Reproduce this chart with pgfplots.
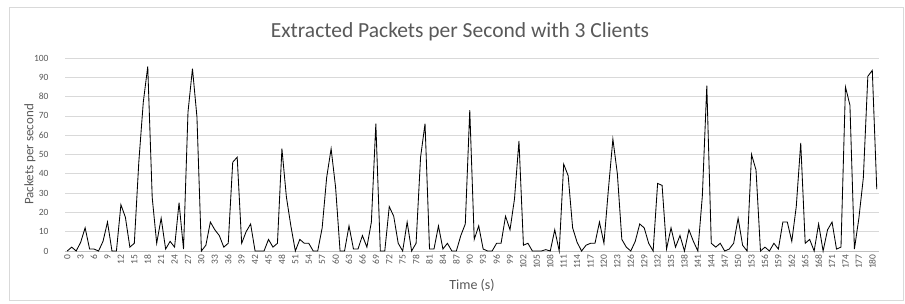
\documentclass[border=0pt]{standalone}
\usepackage{fontspec}
\setmainfont{Carlito}
\usepackage{pgfplots}
\pgfplotsset{compat=1.18}
\definecolor{txt}{HTML}{595959}
\definecolor{gridc}{HTML}{D9D9D9}
\definecolor{axc}{HTML}{BFBFBF}
\begin{document}
\begin{tikzpicture}
\useasboundingbox (0pt,0pt) rectangle (905pt,303pt);
\fill[white] (0pt,0pt) rectangle (905pt,303pt);
\draw[gridc, line width=0.75pt] (9pt,3pt) rectangle (903pt,296pt);
\node[text=txt, font=\fontsize{21.5}{24}\selectfont] at (460pt,271pt) {Extracted Packets per Second with 3 Clients};
\begin{axis}[
  at={(65pt,52pt)}, anchor=south west,
  scale only axis, width=814pt, height=193pt,
  xmin=-0.5, xmax=181.5, ymin=0, ymax=100,
  xtick={0,3,...,180}, ytick={0,10,...,100},
  ymajorgrids, grid style={gridc, line width=0.75pt},
  axis x line*=bottom, axis y line*=left,
  y axis line style={draw=none},
  x axis line style={draw=axc, line width=0.75pt},
  major tick length=0pt,
  /pgf/number format/assume math mode=true,
  tick label style={font=\fontsize{9.5}{11}\selectfont, text=txt},
  x tick label style={rotate=90, anchor=east},
  y tick label style={anchor=east, xshift=-13pt},
  ylabel={Packets per second},
  ylabel style={at={(axis description cs:-0.043,0.5)}, rotate=0, anchor=center, font=\fontsize{13}{15}\selectfont, text=txt},
  xlabel={Time (s)},
  xlabel style={at={(axis description cs:0.5,-0.176)}, anchor=center, font=\fontsize{14}{16}\selectfont, text=txt},
  clip=false,
]
\addplot[black, line width=0.85pt, no markers, line join=miter] table[x=t, y=v] {
t v
0 0
1 2
2 0
3 4.5
4 12
5 1
6 1
7 0
8 5
9 15
10 0
11 0
12 24
13 17.5
14 2
15 4
16 46
17 77
18 95.6
19 27.7
20 4
21 17
22 1
23 5
24 2
25 25
26 1
27 72
28 94.5
29 69.5
30 0
31 3
32 15
33 11
34 8
35 2
36 4
37 46
38 48.6
39 4
40 10
41 14
42 0
43 0
44 0
45 6
46 2
47 4
48 53
49 28
50 13
51 0
52 6
53 4
54 4
55 0
56 0
57 12
58 38
59 53
60 33
61 0
62 0
63 13
64 1
65 1
66 8
67 2
68 15
69 66
70 0
71 0
72 23
73 18
74 4
75 0
76 15
77 0
78 4
79 48.6
80 66
81 1
82 1
83 13
84 1
85 4
86 0
87 0
88 8
89 14
90 73
91 6
92 13
93 1
94 0
95 0
96 4
97 4
98 18
99 11
100 27
101 57
102 3
103 4
104 0
105 0
106 0
107 0.7
108 0
109 11
110 0
111 45
112 39
113 12
114 4.5
115 0
116 3
117 4
118 4
119 15
120 4
121 32
122 58
123 40
124 6
125 2
126 0
127 5
128 14
129 12
130 4
131 0
132 35
133 34
134 1
135 12
136 2
137 8
138 0
139 11
140 5
141 0
142 28.5
143 85.7
144 4
145 2
146 4
147 0
148 1
149 4
150 17
151 3
152 0
153 50
154 42
155 0
156 2
157 0
158 4
159 1
160 15
161 15
162 5
163 23
164 56
165 4
166 6
167 0
168 14
169 0
170 11
171 15
172 1
173 2
174 85
175 75.6
176 1
177 17
178 38
179 90.5
180 93.6
181 32
};
\end{axis}
\end{tikzpicture}
\end{document}
